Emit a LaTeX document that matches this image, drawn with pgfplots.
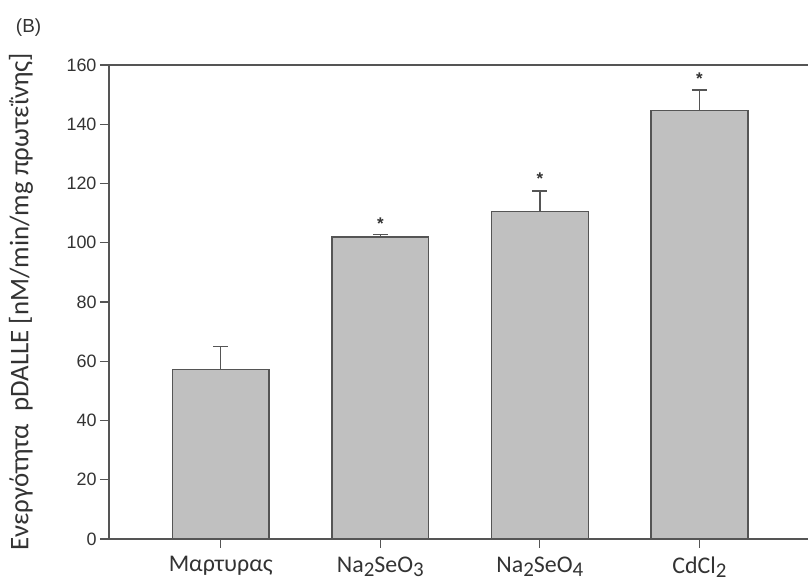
\documentclass[border=0pt]{standalone}
\usepackage{fontspec}
\setmainfont{Liberation Sans}
\newfontfamily\carlito{Carlito}
\usepackage{pgfplots}
\pgfplotsset{compat=1.18}
\definecolor{barfill}{HTML}{C0C0C0}
\definecolor{edge}{HTML}{555555}
\definecolor{txt}{HTML}{333333}
\newcommand{\sub}[1]{\raisebox{-0.35ex}{\fontsize{21}{21}\selectfont #1}}
\begin{document}
\begin{tikzpicture}
\begin{axis}[name=ax, scale only axis, width=699bp, height=474bp,
  clip=false,
  xmin=-0.7, xmax=3.68, ymin=0, ymax=160,
  axis x line=box, axis y line=left,
  axis line style={edge, line width=1.5bp, -},
  xtick={0,1,2,3},
  xticklabels={Μαρτυρας, Na\sub{2}SeO\sub{3}, Na\sub{2}SeO\sub{4}, CdCl\sub{2}},
  ytick={0,20,...,160},
  tick align=outside, major tick length=9bp,
  xtick pos=left, ytick pos=left,
  tick style={edge, line width=1.2bp},
  /pgf/number format/assume math mode=true,
  yticklabel style={font=\fontsize{18}{18}\selectfont, txt},
  xticklabel style={font=\carlito\fontsize{24}{24}\selectfont, txt, yshift=-5bp},
  ylabel={Ενεργότητα\ \ pDALLE [nM/min/mg πρωτεΐνης]},
  ylabel style={font=\carlito\fontsize{27}{27}\selectfont, txt, at={(axis description cs:-0.126,0.5)}, anchor=center},
  ybar, bar width=0.607,
]
\addplot[fill=barfill, draw=edge, line width=1.5bp,
  error bars/.cd, y dir=plus, y explicit,
  error bar style={edge, line width=1.5bp},
  error mark options={edge, line width=1.5bp, mark size=7.5bp, rotate=90}]
  coordinates {(0,57.2) +- (0,7.7) (1,102.0) +- (0,0.7) (2,110.6) +- (0,6.8) (3,144.6) +- (0,7.0)};
\node[font=\fontsize{17}{17}\selectfont\bfseries, txt] at (axis cs:1,106.5) {*};
\node[font=\fontsize{17}{17}\selectfont\bfseries, txt] at (axis cs:2,121.5) {*};
\node[font=\fontsize{17}{17}\selectfont\bfseries, txt] at (axis cs:3,155.5) {*};
\node[font=\fontsize{19}{19}\selectfont, txt] at (rel axis cs:-0.115,1.078) {(B)};
\end{axis}
\pgfresetboundingbox
\path ([xshift=-109bp,yshift=-45bp]ax.south west) rectangle ([yshift=65bp]ax.north east);
\end{tikzpicture}
\end{document}
